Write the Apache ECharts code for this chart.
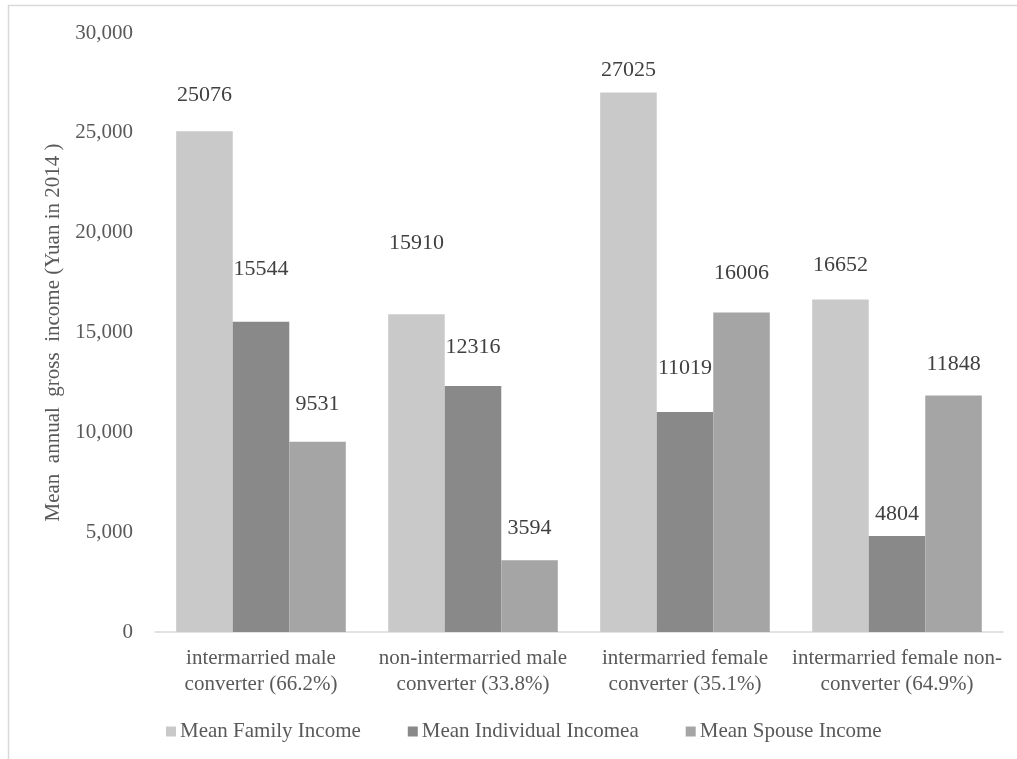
<!DOCTYPE html>
<html>
<head>
<meta charset="utf-8">
<script src="https://cdn.jsdelivr.net/npm/echarts@6/dist/echarts.min.js"></script>
<style>
  html, body { margin: 0; padding: 0; background: #ffffff; }
  #chart { width: 1017px; height: 759px; }
</style>
</head>
<body>
<div id="chart"></div>
<script>
// Groups of converters / non-converters
const categories = [
  'intermarried male\nconverter (66.2%)',
  'non-intermarried male\nconverter (33.8%)',
  'intermarried female\nconverter (35.1%)',
  'intermarried female non-\nconverter (64.9%)'
];

// Mean annual gross income, Yuan in 2014
const familyIncome = [25076, 15910, 27025, 16652];
const individualIncome = [15544, 12316, 11019, 4804];
const spouseIncome = [9531, 3594, 16006, 11848];

const seriesNames = ['Mean Family Income', 'Mean Individual Incomea', 'Mean Spouse Income'];
const yTicks = { min: 0, max: 30000, interval: 5000 };

// ---- presentation ----
const FONT = '"Liberation Serif", "DejaVu Serif", serif';
const colors = ['#c9c9c9', '#898989', '#a5a5a5'];
// spacing between each bar top and its value label
const labelGap = [
  [25, 60, 11, 23],
  [41, 28, 33, 11],
  [26, 21, 28, 20]
];

function makeSeries(idx, values) {
  return {
    name: seriesNames[idx],
    type: 'bar',
    barGap: '0%',
    barCategoryGap: '20%',
    itemStyle: { color: colors[idx] },
    emphasis: { disabled: true },
    data: values.map((v, i) => ({
      value: v,
      label: {
        show: true,
        position: 'top',
        distance: labelGap[idx][i],
        color: '#404040',
        fontFamily: FONT,
        fontSize: 22
      }
    }))
  };
}

const chart = echarts.init(document.getElementById('chart'), null, { renderer: 'canvas' });

chart.setOption({
  animation: false,
  backgroundColor: '#ffffff',
  color: colors,
  graphic: [{
    type: 'rect',
    shape: { x: 8.5, y: 5.5, width: 1100, height: 900 },
    style: { fill: 'none', stroke: '#d9d9d9', lineWidth: 1.5 },
    silent: true
  }],
  grid: { left: 155, right: 14, top: 33, bottom: 127, containLabel: false },
  legend: {
    left: 161,
    top: 716,
    itemWidth: 10,
    itemHeight: 10,
    itemGap: 47,
    icon: 'rect',
    textStyle: { color: '#595959', fontFamily: FONT, fontSize: 21, padding: [0, 0, 0, -1] },
    data: seriesNames
  },
  xAxis: {
    type: 'category',
    data: categories,
    axisLine: { lineStyle: { color: '#d9d9d9', width: 1.5 } },
    axisTick: { show: false },
    axisLabel: {
      color: '#595959',
      fontFamily: FONT,
      fontSize: 21,
      lineHeight: 26,
      margin: 13,
      interval: 0
    }
  },
  yAxis: {
    type: 'value',
    min: yTicks.min,
    max: yTicks.max,
    interval: yTicks.interval,
    name: 'Mean  annual  gross  income (Yuan in 2014 )',
    nameLocation: 'middle',
    nameGap: 89,
    nameTextStyle: { color: '#595959', fontFamily: FONT, fontSize: 21 },
    axisLine: { show: false },
    axisTick: { show: false },
    splitLine: { show: false },
    axisLabel: {
      color: '#595959',
      fontFamily: FONT,
      fontSize: 21,
      margin: 22,
      formatter: v => v.toLocaleString('en-US')
    }
  },
  series: [
    makeSeries(0, familyIncome),
    makeSeries(1, individualIncome),
    makeSeries(2, spouseIncome)
  ]
});
</script>
</body>
</html>
